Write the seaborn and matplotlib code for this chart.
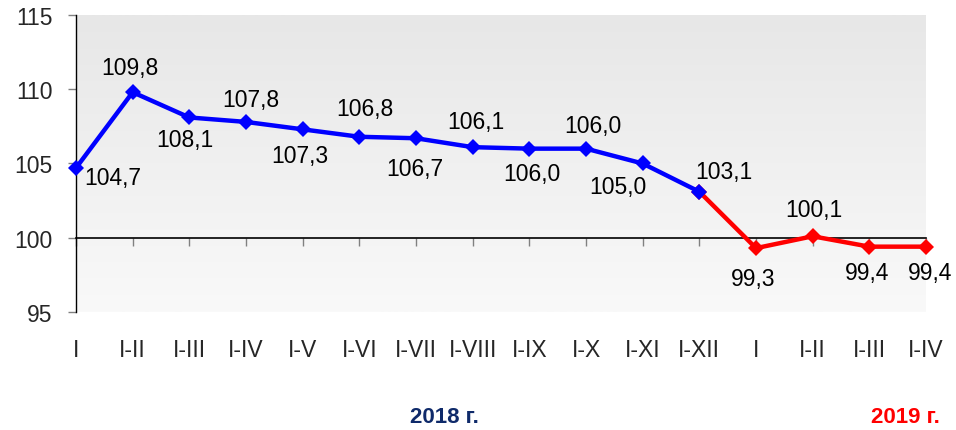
import numpy as np
import pandas as pd
import matplotlib.pyplot as plt
import seaborn as sns
from matplotlib.colors import LinearSegmentedColormap

sns.set_style("white")
plt.rcParams['font.family'] = ['Liberation Sans', 'DejaVu Sans']

periods = ['I', 'I-II', 'I-III', 'I-IV', 'I-V', 'I-VI', 'I-VII', 'I-VIII',
           'I-IX', 'I-X', 'I-XI', 'I-XII', 'I', 'I-II', 'I-III', 'I-IV']
values = [104.7, 109.8, 108.1, 107.8, 107.3, 106.8, 106.7, 106.1,
          106.0, 106.0, 105.0, 103.1, 99.3, 100.1, 99.4, 99.4]
labels = ['104,7', '109,8', '108,1', '107,8', '107,3', '106,8', '106,7', '106,1',
          '106,0', '106,0', '105,0', '103,1', '99,3', '100,1', '99,4', '99,4']
# label offsets in pixels (dx, dy up)
offsets = [(37, -10), (-3, 25), (-4, -22), (5, 22), (-3, -26), (6, 28), (-1, -30), (3, 26),
           (3, -25), (7, 23), (-25, -23), (25, 20), (-3, -30), (1, 27), (-2, -26), (4, -26)]

df = pd.DataFrame({'x': np.arange(len(values)), 'value': values})
df_2018 = df.iloc[:12]
df_2019 = df.iloc[11:]

fig = plt.figure(figsize=(9.56, 4.31), dpi=100)
ax = fig.add_axes([76 / 956, 1 - 313 / 431, 850 / 956, 297 / 431])

# gradient background
cmap = LinearSegmentedColormap.from_list('bg', ['#e7e7e7', '#f9f9f9'])
grad = np.linspace(0, 1, 256).reshape(-1, 1)
ax.imshow(grad, cmap=cmap, aspect='auto', extent=[0, 1, 0, 1],
          transform=ax.transAxes, zorder=0)

sns.lineplot(data=df_2019, x='x', y='value', ax=ax, color='#ff0000', lw=3.2,
             marker='D', markersize=8, markeredgewidth=0, clip_on=False, zorder=3)
sns.lineplot(data=df_2018, x='x', y='value', ax=ax, color='#0000ff', lw=3.2,
             marker='D', markersize=8, markeredgewidth=0, clip_on=False, zorder=4)

for i, (v, lab) in enumerate(zip(values, labels)):
    dx, dy = offsets[i]
    ax.annotate(lab, (i, v), xytext=(dx * 0.72, dy * 0.72), textcoords='offset points',
                ha='center', va='center', fontsize=16.5, color='black', zorder=5)

ax.set_xlim(0, len(values) - 1)
ax.set_ylim(95, 115)
ax.set_yticks([95, 100, 105, 110, 115])
ax.set_yticklabels(['95', '100', '105', '110', '115'])
ax.tick_params(axis='y', direction='out', length=6, width=1, color='#808080',
               labelsize=16.5, pad=11, left=True)

# baseline at 100 with small ticks
for s in ['top', 'right']:
    ax.spines[s].set_visible(False)
ax.spines['left'].set_color('black')
ax.spines['left'].set_linewidth(1)
ax.spines['bottom'].set_position(('data', 100))
ax.spines['bottom'].set_color('black')
ax.spines['bottom'].set_linewidth(1.2)
ax.set_xticks(df['x'])
ax.tick_params(axis='x', direction='out', length=6, width=1, color='#808080',
               labelbottom=False, bottom=True)
ax.set_xlabel('')
ax.set_ylabel('')

sec = ax.secondary_xaxis('bottom')
sec.set_xticks(df['x'])
sec.set_xticklabels(periods)
sec.tick_params(length=0, labelsize=16.5, pad=19)
sec.spines['bottom'].set_visible(False)

fig.text(444 / 956, 1 - 418 / 431, '2018 г.', ha='center', va='center',
         fontsize=16, fontweight='bold', color='#0f2a6a')
fig.text(905 / 956, 1 - 418 / 431, '2019 г.', ha='center', va='center',
         fontsize=16, fontweight='bold', color='#ff0000')

fig.savefig('out.png', dpi=100)
